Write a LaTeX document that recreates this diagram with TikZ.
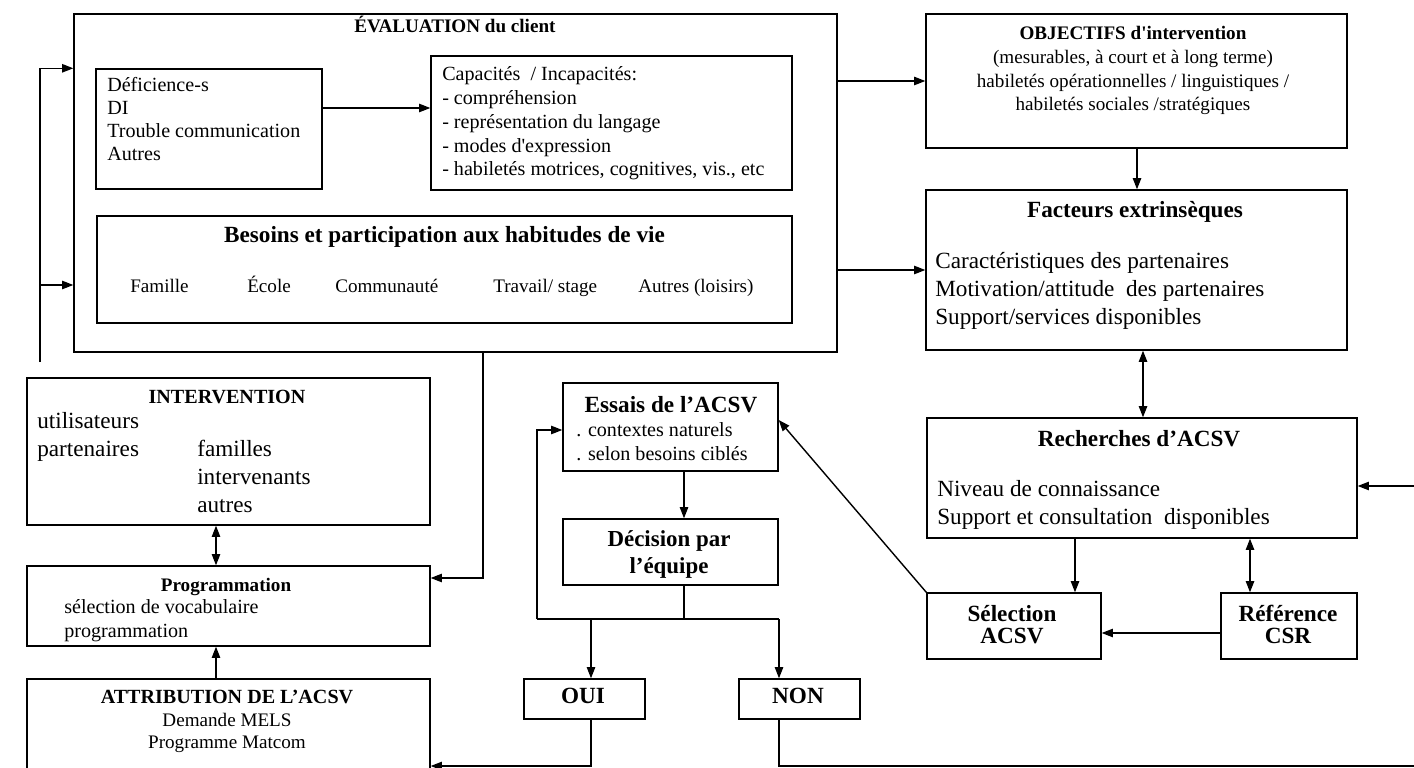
\documentclass[tikz,border=0pt]{standalone}
\usepackage{fontspec}
\setmainfont{Liberation Serif}
\usetikzlibrary{arrows.meta,positioning}
\tikzset{
  box/.style={draw, line width=1pt, inner sep=0pt},
  ln/.style={line width=1pt},
  arr/.style={line width=1pt, -{Triangle[length=8pt,width=6pt]}},
  dbl/.style={line width=1pt, {Triangle[length=8pt,width=6pt]}-{Triangle[length=8pt,width=6pt]}},
  txt/.style={font=\fontsize{14.3}{17}\selectfont, inner sep=0pt},
  big/.style={font=\fontsize{16.5}{19.9}\selectfont, inner sep=0pt},
  sml/.style={font=\fontsize{13.6}{17}\selectfont, inner sep=0pt},
}
\begin{document}
\begin{tikzpicture}
  \useasboundingbox (0,0) rectangle (35.35,-19.2);
  \clip (0,0) rectangle (35.35,-19.2);
  % Evaluation du client (multi-line texts sit on their last baseline)
  \node[box, minimum width=19.075cm, minimum height=8.45cm] (eval) at (11.3875,-4.575) {};
  \node[sml, anchor=base] (evaltitle) at (11.375,-0.825) {\bfseries ÉVALUATION du client};
  \node[box, minimum width=5.65cm, minimum height=3cm] (defi) at (5.225,-3.225) {};
  \node[txt, anchor=base west, align=left, font=\fontsize{14.3}{16.5}\selectfont] (defitext) at (2.675,-4.025)
    {Déficience-s\\DI\\Trouble communication\\Autres};
  \node[box, minimum width=9.025cm, minimum height=3.35cm] (capa) at (15.2875,-3.075) {};
  \node[txt, anchor=base west, align=left] (capatext) at (11.05,-4.4)
    {Capacités \ / Incapacités:\\- compréhension\\- représentation du langage\\- modes d\textquotesingle expression\\- habiletés motrices, cognitives, vis., etc};
  \node[box, minimum width=17.375cm, minimum height=2.675cm] (besoins) at (11.1125,-6.7375) {};
  \node[big, anchor=base] (besoinstitle) at (11.1125,-6.075) {\bfseries Besoins et participation aux habitudes de vie};
  \node[sml, anchor=base west] (famille) at (3.25,-7.325) {Famille};
  \node[sml, anchor=base west] (ecole) at (6.175,-7.325) {École};
  \node[sml, anchor=base west] (commu) at (8.375,-7.325) {Communauté};
  \node[sml, anchor=base west] (travail) at (12.325,-7.325) {Travail/ stage};
  \node[sml, anchor=base west] (loisirs) at (15.95,-7.325) {Autres (loisirs)};
  % Objectifs et facteurs
  \node[box, minimum width=10.525cm, minimum height=3.35cm] (obj) at (28.4125,-2.025) {};
  \node[sml, anchor=base, align=center] (objtext) at (28.325,-2.775)
    {\bfseries OBJECTIFS d\textquotesingle intervention\\(mesurables, à court et à long terme)\\habiletés opérationnelles / linguistiques /\\habiletés sociales /stratégiques};
  \node[box, minimum width=10.525cm, minimum height=4cm] (fact) at (28.4125,-6.75) {};
  \node[big, anchor=base] (facttitle) at (28.375,-5.425) {\bfseries Facteurs extrinsèques};
  \node[big, anchor=base west, align=left] (facttext) at (23.375,-8.1)
    {Caractéristiques des partenaires\\Motivation/attitude \ des partenaires\\Support/services disponibles};
  \node[box, minimum width=10.75cm, minimum height=3cm] (rech) at (28.55,-11.95) {};
  \node[big, anchor=base] (rechtitle) at (28.475,-11.15) {\bfseries Recherches d’ACSV};
  \node[big, anchor=base west, align=left] (rechtext) at (23.425,-13.1)
    {Niveau de connaissance\\Support et consultation \ disponibles};
  \node[box, minimum width=4.35cm, minimum height=1.65cm] (sel) at (25.35,-15.65) {};
  \node[big, anchor=base, align=center, font=\fontsize{16.5}{15.6}\selectfont] (seltext) at (25.3,-16.075) {\bfseries Sélection\\\bfseries ACSV};
  \node[box, minimum width=3.4cm, minimum height=1.65cm] (ref) at (32.225,-15.65) {};
  \node[big, anchor=base, align=center, font=\fontsize{16.5}{15.6}\selectfont] (reftext) at (32.2,-16.075) {\bfseries Référence\\\bfseries CSR};
  % Essais et decision
  \node[box, minimum width=5.375cm, minimum height=2.2cm] (essais) at (16.7625,-10.675) {};
  \node[big, anchor=base] (essaistitle) at (16.775,-10.3) {\bfseries Essais de l’ACSV};
  \node[txt, anchor=base west, align=left] (essaistext) at (14.4,-11.5)
    {. contextes naturels\\. selon besoins ciblés};
  \node[box, minimum width=5.375cm, minimum height=1.65cm] (deci) at (16.7625,-13.8) {};
  \node[big, anchor=base, align=center, font=\fontsize{16.3}{18.5}\selectfont] (decitext) at (16.725,-14.325)
    {\bfseries Décision par\\\bfseries l’équipe};
  \node[box, minimum width=3.025cm, minimum height=1cm] (oui) at (14.6125,-17.475) {};
  \node[big, anchor=base] (ouitext) at (14.575,-17.575) {\bfseries OUI};
  \node[box, minimum width=3.025cm, minimum height=1cm] (non) at (19.9875,-17.475) {};
  \node[big, anchor=base] (nontext) at (19.95,-17.575) {\bfseries NON};
  % Intervention, programmation, attribution
  \node[box, minimum width=10.075cm, minimum height=3.675cm] (interv) at (5.7125,-11.2875) {};
  \node[txt, anchor=base] (intervtitle) at (5.675,-10.075) {\bfseries INTERVENTION};
  \node[big, anchor=base west, align=left] (intervtext) at (0.925,-11.4) {utilisateurs\\partenaires};
  \node[big, anchor=base west, align=left] (partext) at (4.925,-12.8) {familles\\intervenants\\autres};
  \node[box, minimum width=10.075cm, minimum height=2cm] (prog) at (5.7125,-15.15) {};
  \node[sml, anchor=base] (progtitle) at (5.65,-14.775) {\bfseries Programmation};
  \node[txt, anchor=base west, align=left, font=\fontsize{14.3}{16.4}\selectfont] (progtext) at (1.6,-15.925)
    {sélection de vocabulaire\\programmation};
  \node[box, minimum width=10.075cm, minimum height=2.775cm] (attr) at (5.7125,-18.3625) {};
  \node[txt, anchor=base] (attrtitle) at (5.675,-17.575) {\bfseries ATTRIBUTION DE L’ACSV};
  \node[sml, anchor=base, align=center, font=\fontsize{13.6}{15}\selectfont] (attrtext) at (5.675,-18.7)
    {Demande MELS\\Programme Matcom};
  % Junctions
  \coordinate (lb) at (1.0,-9.05);
  \coordinate (jn) at (17.1,-15.475);
  \coordinate (jl) at (13.425,-15.475);
  \coordinate (jo) at (14.775,-15.475);
  \coordinate (jr) at (19.475,-15.475);
  \coordinate (farR) at (36,-19.15);
  % Connectors
  \draw[arr] (lb) |- (eval.west |- defi.north);
  \draw[arr] (lb |- 0,-7.125) -- (eval.west |- 0,-7.125);
  \draw[arr] (defi.east |- 0,-2.7) -- (capa.west |- 0,-2.7);
  \draw[arr] (eval.east |- obj.west) -- (obj.west);
  \draw[arr] (eval.east |- fact.west) -- (fact.west);
  \draw[arr] (obj.south -| 28.425,0) -- (fact.north -| 28.425,0);
  \draw[dbl] (fact.south -| 28.575,0) -- (rech.north -| 28.575,0);
  \draw[arr] (rech.south -| 26.875,0) -- (sel.north -| 26.875,0);
  \draw[dbl] (rech.south -| 31.25,0) -- (ref.north -| 31.25,0);
  \draw[arr] (ref.west |- 0,-15.825) -- (sel.east |- 0,-15.825);
  \draw[arr] (sel.north west) -- ([yshift=0.175cm]essais.east);
  \draw[arr] (essais.south -| jn) -- (deci.north -| jn);
  \draw[ln] (deci.south -| jn) -- (jn);
  \draw[ln] (jl) -- (jr);
  \draw[arr] (jl) |- (essais.west |- 0,-10.75);
  \draw[arr] (jo) -- (oui.north -| jo);
  \draw[arr] (jr) -- (non.north -| jr);
  \draw[arr] (oui.south -| jo) |- (attr.east |- 0,-19.15);
  \draw[arr] (non.south -| jr) |- (farR) |- (rech.east |- 0,-12.15);
  \draw[dbl] (interv.south -| 5.4,0) -- (prog.north -| 5.4,0);
  \draw[arr] (attr.north -| 5.4,0) -- (prog.south -| 5.4,0);
  \draw[arr] (eval.south -| 12.075,0) |- (prog.east |- 0,-14.45);
\end{tikzpicture}
\end{document}
